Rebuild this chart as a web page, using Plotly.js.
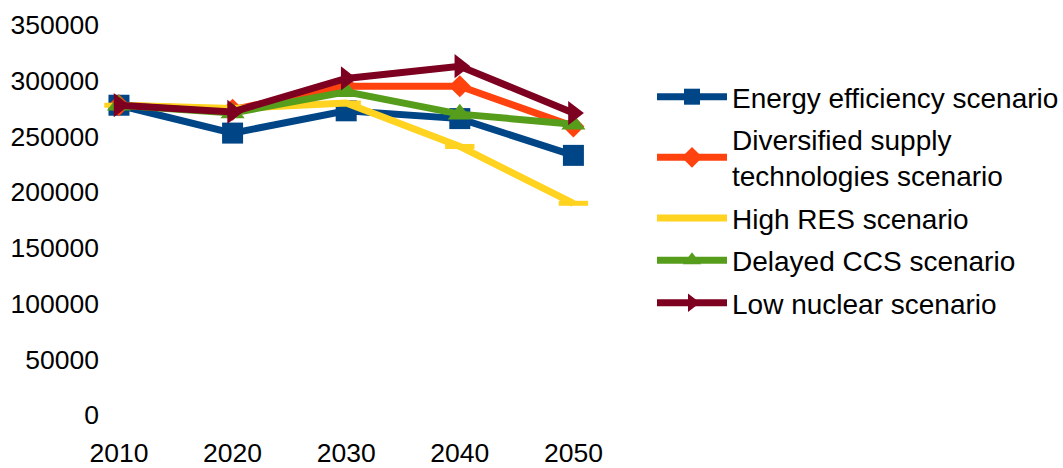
<!DOCTYPE html>
<html>
<head>
<meta charset="utf-8">
<script src="https://cdn.plot.ly/plotly-3.0.1.min.js"></script>
<style>html,body{margin:0;padding:0;background:#fff;}#chart{width:1063px;height:468px;}</style>
</head>
<body>
<div id="chart"></div>
<script>
const years = [2010, 2020, 2030, 2040, 2050];
const seriesNames = [
  "Energy efficiency scenario",
  "Diversified supply<br>technologies scenario",
  "High RES scenario",
  "Delayed CCS scenario",
  "Low nuclear scenario"
];
const energyEfficiency = [278000, 253000, 273000, 266000, 233000];
const diversifiedSupply = [278000, 274000, 295000, 295000, 259000];
const highRES = [278000, 275000, 280000, 241000, 190000];
const delayedCCS = [278000, 271000, 290000, 270000, 261000];
const lowNuclear = [278000, 272000, 302000, 313000, 271000];
const yTicks = [0, 50000, 100000, 150000, 200000, 250000, 300000, 350000];

const colors = ["#004586", "#ff420e", "#ffd320", "#579d1c", "#7e0021"];
const symbols = ["square", "diamond", "line-ew", "triangle-up", "triangle-right"];
const sizes = [21, 17, 21, 21, 21];
const allSeries = [energyEfficiency, diversifiedSupply, highRES, delayedCCS, lowNuclear];

const traces = allSeries.map((vals, i) => ({
  x: years,
  y: vals,
  name: seriesNames[i],
  type: "scatter",
  mode: "lines+markers",
  legendgroup: "g" + i,
  line: {color: colors[i], width: 7},
  marker: {
    symbol: symbols[i],
    size: sizes[i],
    color: colors[i],
    line: {color: colors[i], width: i === 2 ? 5 : 0}
  }
}));

const layout = {
  width: 1063,
  height: 468,
  margin: {l: 100, r: 473, t: 25, b: 53},
  paper_bgcolor: "#fff",
  plot_bgcolor: "#fff",
  font: {family: "Liberation Sans, Arial, sans-serif", color: "#000", size: 26},
  showlegend: true,
  xaxis: {
    range: [2008.33, 2051.46],
    tickvals: years,
    ticktext: years.map(String),
    showgrid: false,
    zeroline: false,
    showline: false,
    ticks: "outside",
    ticklen: 14,
    tickcolor: "rgba(0,0,0,0)",
    tickfont: {size: 26.5}
  },
  yaxis: {
    range: [0, 350000],
    tickvals: yTicks,
    ticktext: yTicks.map(String),
    showgrid: false,
    zeroline: false,
    showline: false,
    ticks: "",
    tickfont: {size: 26.5}
  },
  legend: {
    xref: "container",
    yref: "container",
    x: 652 / 1063,
    y: 1 - 72 / 468,
    xanchor: "left",
    yanchor: "top",
    itemwidth: 70,
    traceorder: "grouped",
    tracegroupgap: 3,
    maxheight: 400,
    font: {size: 28, color: "#000"},
    bgcolor: "rgba(0,0,0,0)"
  }
};

Plotly.newPlot("chart", traces, layout, {displayModeBar: false, staticPlot: true});
</script>
</body>
</html>
